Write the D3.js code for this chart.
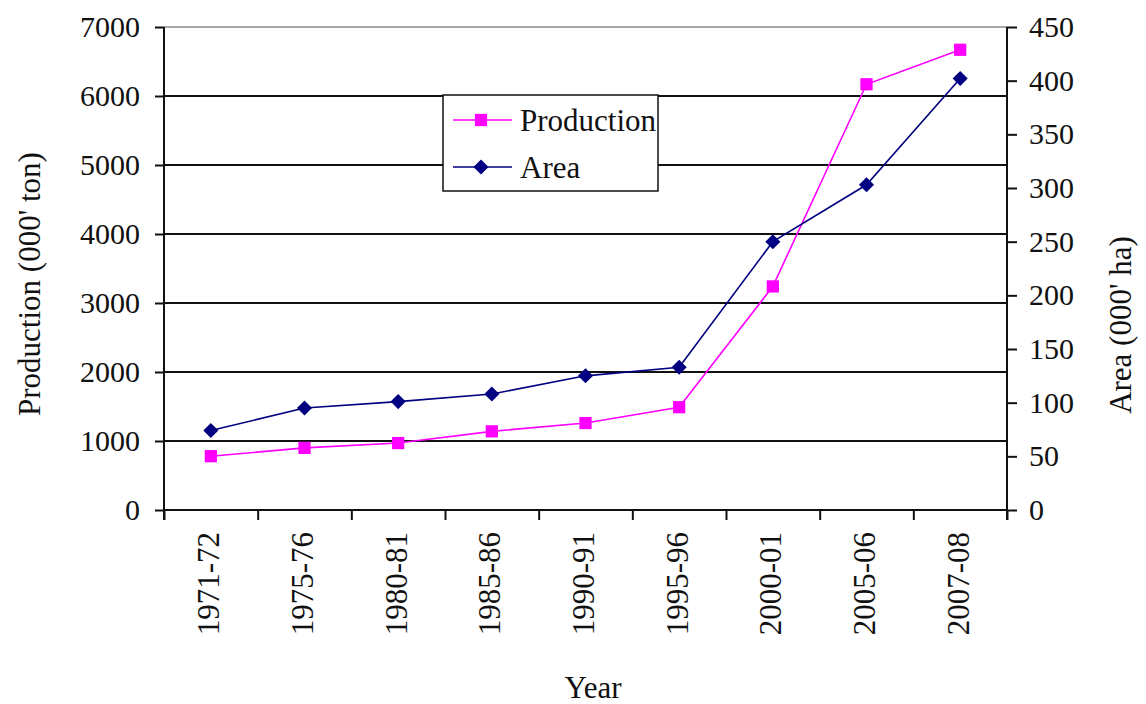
<!DOCTYPE html>
<html>
<head>
<meta charset="utf-8">
<script src="https://cdn.jsdelivr.net/npm/d3@7"></script>
<style>
  html, body { margin: 0; padding: 0; background: #fff; }
  svg { display: block; }
  text { font-family: "Liberation Serif", "DejaVu Serif", serif; fill: #111; }
</style>
</head>
<body>
<svg id="chart" width="1146" height="704"></svg>
<script>
// Seasons on the category axis
const years = ["1971-72", "1975-76", "1980-81", "1985-86", "1990-91", "1995-96", "2000-01", "2005-06", "2007-08"];
// Production, thousand tonnes (left axis)
const production = [780, 900, 970, 1140, 1260, 1490, 3240, 6170, 6670];
// Area, thousand hectares (right axis)
const area = [74, 95, 101, 108, 125, 133, 250, 303, 402];
// Axis tick values
const prodTicks = [0, 1000, 2000, 3000, 4000, 5000, 6000, 7000];
const areaTicks = [0, 50, 100, 150, 200, 250, 300, 350, 400, 450];

const FONT = "Liberation Serif, DejaVu Serif, serif";
const svg = d3.select("#chart");
const plotL = 164, plotR = 1007, plotT = 27, plotB = 510;

const x = d3.scaleBand().domain(years).range([plotL, plotR]).padding(0);
const xEdge = d3.scaleLinear().domain([0, years.length]).range([plotL, plotR]);
const yP = d3.scaleLinear().domain([0, 7000]).range([plotB, plotT]);
const yA = d3.scaleLinear().domain([0, 450]).range([plotB, plotT]);
const cx = d => x(d) + x.bandwidth() / 2;

// Horizontal gridlines
svg.append("g").selectAll("line")
  .data(prodTicks.filter(v => v > 0 && v < 7000))
  .join("line")
  .attr("x1", plotL).attr("x2", plotR)
  .attr("y1", d => yP(d)).attr("y2", d => yP(d))
  .attr("stroke", "#111").attr("stroke-width", 2);

// Top border of the plot area
svg.append("line")
  .attr("x1", plotL).attr("x2", plotR)
  .attr("y1", yP(7000)).attr("y2", yP(7000))
  .attr("stroke", "#8a8a8a").attr("stroke-width", 1.5);

// Left axis
const gL = svg.append("g").attr("transform", `translate(${plotL},0)`)
  .call(d3.axisLeft(yP).tickValues(prodTicks).tickSize(9).tickPadding(15).tickFormat(d3.format("d")));
// Right axis
const gR = svg.append("g").attr("transform", `translate(${plotR},0)`)
  .call(d3.axisRight(yA).tickValues(areaTicks).tickSize(10).tickPadding(12).tickFormat(d3.format("d")));
// Bottom axis tick marks at category boundaries
const gB = svg.append("g").attr("transform", `translate(0,${plotB})`)
  .call(d3.axisBottom(xEdge).tickValues(d3.range(years.length + 1)).tickSize(10).tickFormat(""));
// Category labels, rotated
const gBL = svg.append("g").attr("transform", `translate(0,${plotB})`)
  .call(d3.axisBottom(x).tickSize(0).tickPadding(0));
gBL.select(".domain").remove();
gBL.attr("font-family", FONT);
gBL.selectAll(".tick text")
  .attr("transform", "translate(-2,22) rotate(-90)")
  .attr("x", 0).attr("y", 0).attr("dy", "0.34em")
  .attr("text-anchor", "end")
  .attr("font-family", FONT)
  .style("font-size", "31px").attr("fill", "#111");

[gL, gR, gB].forEach(g => {
  g.attr("font-family", FONT);
  g.select(".domain").attr("stroke", "#111").attr("stroke-width", 2);
  g.selectAll(".tick line").attr("stroke", "#111").attr("stroke-width", 2);
  g.selectAll(".tick text").attr("font-family", FONT).style("font-size", "30px").attr("fill", "#111");
});
gB.select(".domain").attr("d", `M${plotL},0H${plotR}`);
gL.select(".domain").attr("d", `M0,${plotT}V${plotB + 10}`);
gR.select(".domain").attr("d", `M0,${plotT}V${plotB + 10}`);

// Axis titles
svg.append("text").attr("transform", `translate(40,284) rotate(-90)`)
  .attr("font-family", FONT)
  .attr("text-anchor", "middle").style("font-size", "31px").text("Production (000' ton)");
svg.append("text").attr("transform", `translate(1131,325) rotate(-90)`)
  .attr("font-family", FONT)
  .attr("text-anchor", "middle").style("font-size", "31px").text("Area (000'  ha)");
svg.append("text").attr("x", 593).attr("y", 698)
  .attr("font-family", FONT)
  .attr("text-anchor", "middle").style("font-size", "31px").text("Year");

// Series lines
const lineP = d3.line().x((d, i) => cx(years[i])).y(d => yP(d));
const lineA = d3.line().x((d, i) => cx(years[i])).y(d => yA(d));
svg.append("path").datum(production).attr("d", lineP)
  .attr("fill", "none").attr("stroke", "#ff00ff").attr("stroke-width", 1.6);
svg.append("path").datum(area).attr("d", lineA)
  .attr("fill", "none").attr("stroke", "#000080").attr("stroke-width", 1.6);

// Markers
const sq = d3.symbol().type(d3.symbolSquare).size(150);
const dia = d3.symbol().type(d3.symbolDiamond2).size(145);
svg.append("g").selectAll("path").data(production).join("path")
  .attr("d", sq).attr("fill", "#ff00ff")
  .attr("transform", (d, i) => `translate(${cx(years[i])},${yP(d)})`);
svg.append("g").selectAll("path").data(area).join("path")
  .attr("d", dia).attr("fill", "#000080")
  .attr("transform", (d, i) => `translate(${cx(years[i])},${yA(d)})`);

// Legend
const lg = svg.append("g");
lg.append("rect").attr("x", 443).attr("y", 95).attr("width", 215).attr("height", 96)
  .attr("fill", "#fff").attr("stroke", "#111").attr("stroke-width", 1.5);
const items = [
  { name: "Production", color: "#ff00ff", sym: sq, y: 120 },
  { name: "Area", color: "#000080", sym: dia, y: 167 }
];
items.forEach(it => {
  lg.append("line").attr("x1", 453).attr("x2", 512).attr("y1", it.y).attr("y2", it.y)
    .attr("stroke", it.color).attr("stroke-width", 1.5);
  lg.append("path").attr("d", it.sym).attr("fill", it.color)
    .attr("transform", `translate(481,${it.y})`);
  lg.append("text").attr("x", 520).attr("y", it.y).attr("dy", "0.34em")
    .attr("font-family", FONT)
    .style("font-size", "31px").text(it.name);
});
</script>
</body>
</html>
